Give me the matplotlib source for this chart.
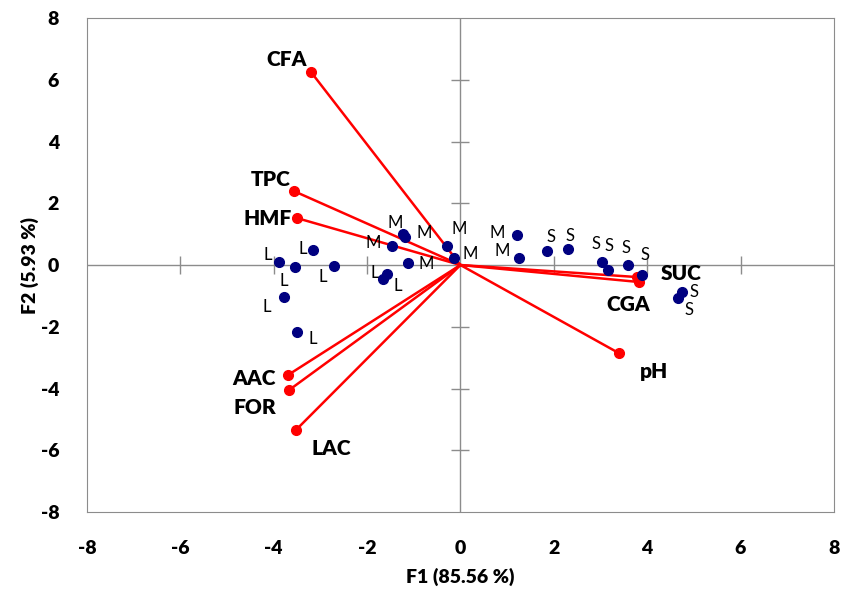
import numpy as np
import matplotlib.pyplot as plt

plt.rcParams['font.family'] = ['Lato', 'DejaVu Sans']
plt.rcParams['axes.unicode_minus'] = False

# variables (loadings, scaled)
var_names = ["CFA", "TPC", "HMF", "AAC", "FOR", "LAC", "pH", "SUC", "CGA"]
var_x = [-3.20, -3.56, -3.50, -3.69, -3.67, -3.52, 3.39, 3.78, 3.82]
var_y = [6.25, 2.39, 1.52, -3.56, -4.05, -5.34, -2.85, -0.39, -0.55]

# observations (scores)
obs_labels = ["L"] * 8 + ["M"] * 8 + ["S"] * 8
obs_x = [-3.88, -3.54, -3.15, -2.70, -3.78, -3.50, -1.57, -1.66,
         -1.24, -1.18, -1.46, -1.12, -0.28, -0.13, 1.22, 1.25,
         1.86, 2.30, 3.04, 3.17, 3.60, 3.88, 4.66, 4.74]
obs_y = [0.10, -0.06, 0.49, -0.03, -1.04, -2.17, -0.29, -0.45,
         1.02, 0.92, 0.61, 0.07, 0.62, 0.22, 0.98, 0.23,
         0.44, 0.53, 0.09, -0.17, 0.00, -0.31, -1.07, -0.88]

# label offsets in pixels (dx, dy)
obs_off = [(-12, 7), (-11, -14), (-11, 1), (-12, -11), (-17, -10), (16, -7), (-12, 1), (15, -7),
           (-7, 11), (19, 4), (-19, 3), (18, -1), (12, 17), (16, 4), (-20, 2), (-17, 7),
           (4, 14), (2, 13), (-6, 18), (1, 24), (-2, 17), (3, 20), (11, -12), (12, 0)]
var_off = [(-24, 13), (-24, 12), (-29, 0), (-34, -4), (-34, -17), (35, -19), (35, -19), (44, 4), (-10, -23)]

fig = plt.figure(figsize=(8.44, 5.93), dpi=100)
ax = fig.add_axes([0.103, 0.1366, 0.885, 0.833])
ax.set_xlim(-8, 8)
ax.set_ylim(-8, 8)

gray = "#8c8c8c"
ax.axhline(0, color=gray, lw=1, zorder=1)
ax.axvline(0, color=gray, lw=1, zorder=1)
ticks = [-6, -4, -2, 2, 4, 6]
ax.plot(ticks, np.zeros(len(ticks)), "|", color=gray, ms=13, mew=1, zorder=1)
ax.plot(np.zeros(len(ticks)), ticks, "_", color=gray, ms=13, mew=1, zorder=1)

for s in ax.spines.values():
    s.set_color(gray)
ax.tick_params(axis="x", length=0, pad=20)
ax.tick_params(axis="y", length=0, pad=20)
tk = np.arange(-8, 9, 2)
ax.set_xticks(tk)
ax.set_yticks(tk)
ax.set_xticklabels([str(v) for v in tk], fontweight="heavy", fontsize=14)
ax.set_yticklabels([str(v) for v in tk], fontweight="heavy", fontsize=14)

# vectors
for x, y in zip(var_x, var_y):
    ax.plot([0, x], [0, y], color="red", lw=1.8, zorder=2)
ax.plot(var_x, var_y, "o", color="red", ms=7, zorder=3)
for n, x, y, (dx, dy) in zip(var_names, var_x, var_y, var_off):
    ax.annotate(n, (x, y), xytext=(dx, dy), textcoords="offset pixels",
                ha="center", va="center", fontsize=15, fontweight="heavy")

# observations
ax.plot(obs_x, obs_y, "o", color="#000080", ms=7, zorder=4)
for n, x, y, (dx, dy) in zip(obs_labels, obs_x, obs_y, obs_off):
    ax.annotate(n, (x, y), xytext=(dx, dy), textcoords="offset pixels",
                ha="center", va="center", fontsize=12)

ax.set_xlabel("F1 (85.56 %)", fontsize=14, fontweight="heavy", labelpad=8)
ax.set_ylabel("F2 (5.93 %)", fontsize=14, fontweight="heavy", labelpad=1)

fig.savefig("out.png", dpi=100)
